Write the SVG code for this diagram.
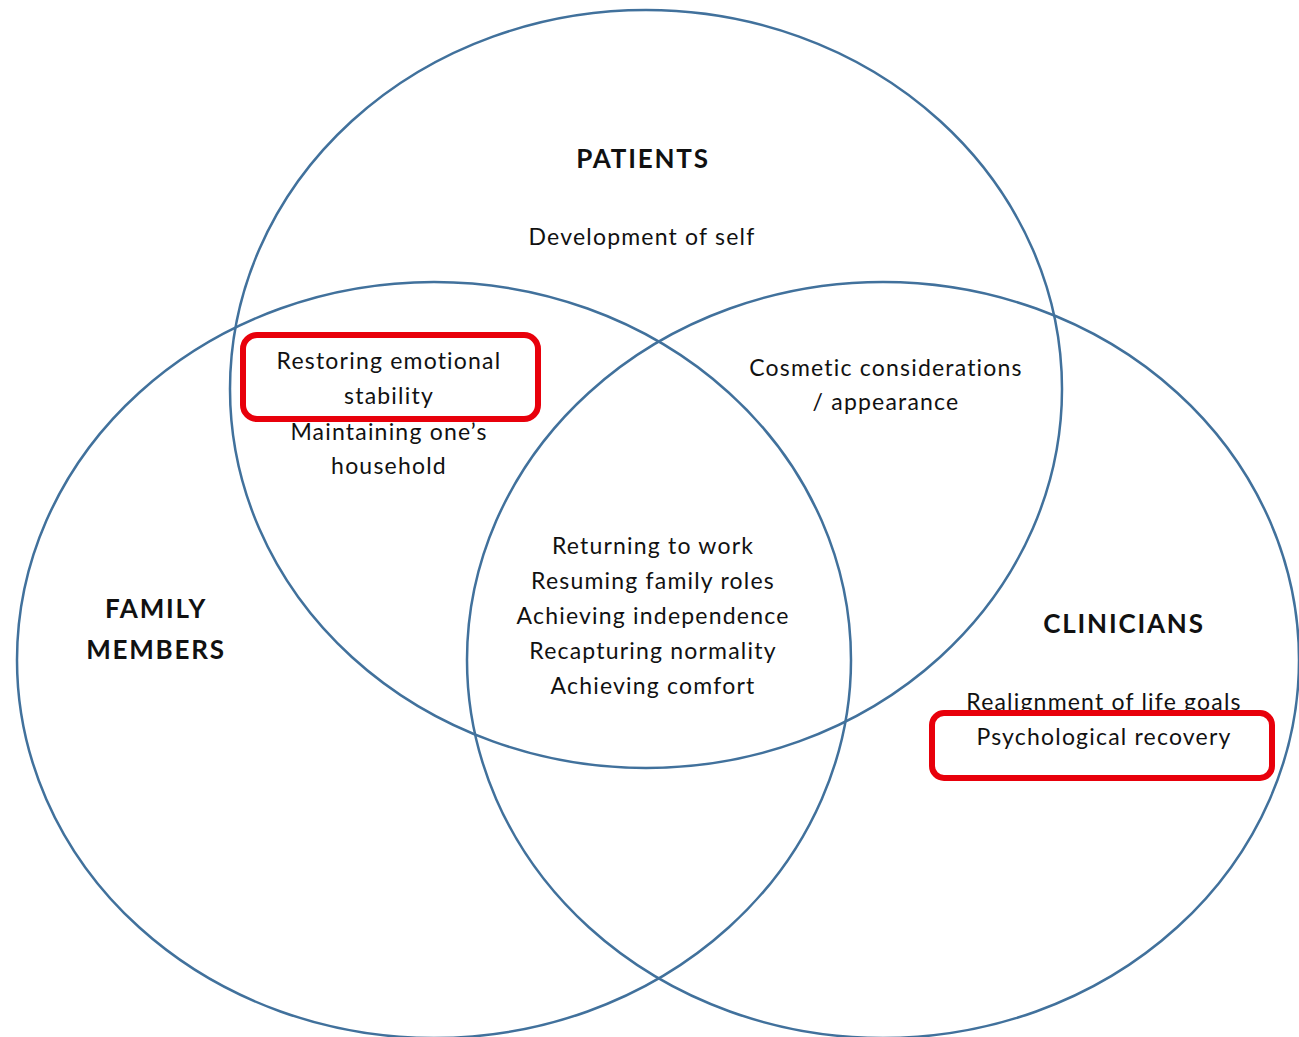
<svg xmlns="http://www.w3.org/2000/svg" width="1299" height="1037" viewBox="0 0 1299 1037">
  <style>
    .ring { fill: none; stroke: #41719c; stroke-width: 2.5; }
    .mark { fill: none; stroke: #e8000b; stroke-width: 6; }
    .t { font-family: Lato, "Open Sans", sans-serif; font-size: 23px; letter-spacing: 1.2px; fill: #111; text-anchor: middle; }
    .h { font-family: Lato, "Open Sans", sans-serif; font-size: 26px; letter-spacing: 1.8px; font-weight: bold; fill: #111; text-anchor: middle; }
  </style>
  <rect width="1299" height="1037" fill="#fff"/>

  <g id="patients">
    <ellipse class="ring" cx="646" cy="389" rx="416" ry="379"/>
    <text class="h" x="643" y="168">PATIENTS</text>
    <text class="t" x="642" y="245">Development of self</text>
  </g>

  <g id="family-members">
    <ellipse class="ring" cx="434" cy="660" rx="417" ry="378"/>
    <text class="h" x="156" y="618">FAMILY</text>
    <text class="h" x="156" y="659">MEMBERS</text>
  </g>

  <g id="clinicians">
    <ellipse class="ring" cx="883" cy="660" rx="416" ry="378"/>
    <text class="h" x="1124" y="633">CLINICIANS</text>
    <text class="t" x="1104" y="710">Realignment of life goals</text>
    <text class="t" x="1104" y="745">Psychological recovery</text>
  </g>

  <g id="patients-family">
    <text class="t" x="389" y="369">Restoring emotional</text>
    <text class="t" x="389" y="404">stability</text>
    <text class="t" x="389" y="440">Maintaining one’s</text>
    <text class="t" x="389" y="474">household</text>
  </g>

  <g id="patients-clinicians">
    <text class="t" x="886" y="376">Cosmetic considerations</text>
    <text class="t" x="886" y="410">/ appearance</text>
  </g>

  <g id="shared">
    <text class="t" x="653" y="554">Returning to work</text>
    <text class="t" x="653" y="589">Resuming family roles</text>
    <text class="t" x="653" y="624">Achieving independence</text>
    <text class="t" x="653" y="659">Recapturing normality</text>
    <text class="t" x="653" y="694">Achieving comfort</text>
  </g>

  <g id="highlights">
    <rect class="mark" x="243" y="335" width="295" height="84" rx="14"/>
    <rect class="mark" x="932" y="713" width="340" height="65" rx="12"/>
  </g>
</svg>
